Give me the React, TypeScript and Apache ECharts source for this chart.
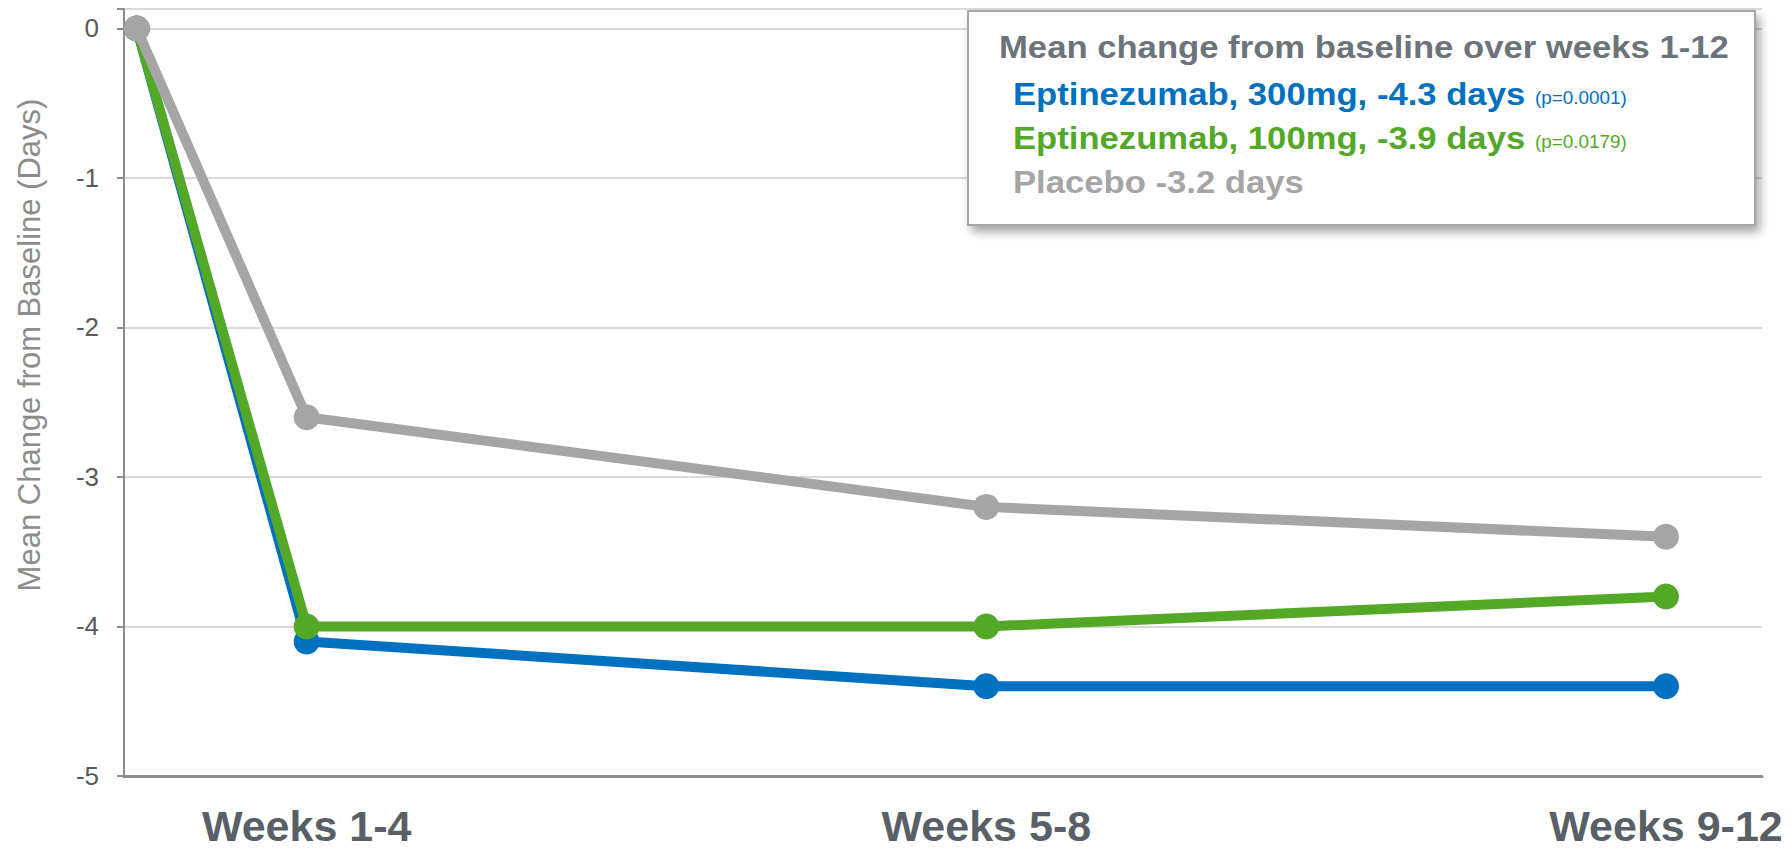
import React, { useEffect, useRef } from "react";
import * as echarts from "echarts";

const weeks = [0, 1, 5, 9];
const xTickValues = [1, 5, 9];
const xTickLabels = ["Weeks 1-4", "Weeks 5-8", "Weeks 9-12"];
const seriesNames = ["Eptinezumab, 300mg", "Eptinezumab, 100mg", "Placebo"];
const seriesColors = ["#0070c0", "#53a828", "#a5a5a5"];
const values300 = [0, -4.1, -4.4, -4.4];
const values100 = [0, -4.0, -4.0, -3.8];
const valuesPlacebo = [0, -2.6, -3.2, -3.4];
const legendTitle = "Mean change from baseline over weeks 1-12";
const legendLines = ["Eptinezumab, 300mg, -4.3 days", "Eptinezumab, 100mg, -3.9 days", "Placebo -3.2 days"];
const legendPValues = ["(p=0.0001)", "(p=0.0179)", ""];
const yAxisName = "Mean Change from Baseline (Days)";

const FONT = "'Liberation Sans', Arial, Helvetica, sans-serif";

export default function App() {
  const ref = useRef<HTMLDivElement>(null);
  useEffect(() => {
    if (!ref.current) return;
    const chart = echarts.init(ref.current, undefined, { renderer: "svg" });
    const allValues = [values300, values100, valuesPlacebo];
    const series = allValues.map((vals, i) => ({
      name: seriesNames[i],
      type: "line",
      data: weeks.map((w, j) => [w, vals[j]]),
      symbol: "circle",
      symbolSize: 26,
      showSymbol: true,
      lineStyle: { width: 10, color: seriesColors[i] },
      itemStyle: { color: seriesColors[i] },
      z: 2 + i,
    }));

    const legendTexts: any[] = [
      {
        type: "text",
        x: 999,
        y: 47,
        scaleX: 1.1,
        style: {
          text: legendTitle,
          fill: "#6d737a",
          font: `bold 31.5px ${FONT}`,
          align: "left",
          verticalAlign: "middle",
        },
        z: 101,
      },
    ];
    const lineYs = [94, 138, 182];
    const pYs = [98, 142, 186];
    legendLines.forEach((t, i) => {
      legendTexts.push({
        type: "text",
        x: 1013,
        y: lineYs[i],
        scaleX: 1.1,
        style: {
          text: t,
          fill: seriesColors[i],
          font: `bold 31.5px ${FONT}`,
          align: "left",
          verticalAlign: "middle",
        },
        z: 101,
      });
      if (legendPValues[i]) {
        legendTexts.push({
          type: "text",
          x: 1535,
          y: pYs[i],
          scaleX: 1.08,
          style: {
            text: legendPValues[i],
            fill: seriesColors[i],
            font: `17.5px ${FONT}`,
            align: "left",
            verticalAlign: "middle",
          },
          z: 101,
        });
      }
    });

    const option: any = {
      animation: false,
      grid: { left: 124, right: 27, top: 9, bottom: 74, containLabel: false },
      xAxis: {
        type: "value",
        min: -0.075,
        max: 9.565,
        splitLine: { show: false },
        axisTick: { show: false },
        axisLine: { show: true, onZero: false, lineStyle: { color: "#8c8c8c", width: 3 } },
        axisLabel: {
          customValues: xTickValues,
          formatter: (v: number) => {
            const idx = xTickValues.indexOf(v);
            return idx >= 0 ? xTickLabels[idx] : "";
          },
          fontSize: 43,
          lineHeight: 40,
          fontWeight: "bold",
          fontFamily: FONT,
          color: "#595f66",
          margin: 30,
        },
      },
      yAxis: {
        type: "value",
        min: -5,
        max: 0.13,
        interval: 1,
        axisLine: { show: true, onZero: false, lineStyle: { color: "#8c8c8c", width: 2 } },
        axisTick: { show: true, length: 7, lineStyle: { color: "#8c8c8c", width: 2 } },
        splitLine: { show: true, lineStyle: { color: "#d9d9d9", width: 2 } },
        axisLabel: {
          formatter: (v: number) => (Number.isInteger(v) ? String(v) : ""),
          fontSize: 26,
          fontFamily: FONT,
          color: "#595959",
          margin: 25,
        },
      },
      series,
      graphic: [
        {
          type: "text",
          x: 29,
          y: 345,
          rotation: Math.PI / 2,
          style: {
            text: yAxisName,
            fill: "#8c8c8c",
            font: `31px ${FONT}`,
            align: "center",
            verticalAlign: "middle",
          },
        },
        {
          type: "rect",
          shape: { x: 968, y: 11, width: 787, height: 214 },
          style: {
            fill: "#ffffff",
            stroke: "#a6a6a6",
            lineWidth: 2,
            shadowBlur: 10,
            shadowOffsetX: 4,
            shadowOffsetY: 6,
            shadowColor: "rgba(0,0,0,0.35)",
          },
          z: 100,
        },
        ...legendTexts,
      ],
    };
    chart.setOption(option);
    return () => chart.dispose();
  }, []);
  return (
    <div
      ref={ref}
      style={{ position: "fixed", left: 0, top: 0, width: "1789px", height: "850px", background: "#fff" }}
    />
  );
}
